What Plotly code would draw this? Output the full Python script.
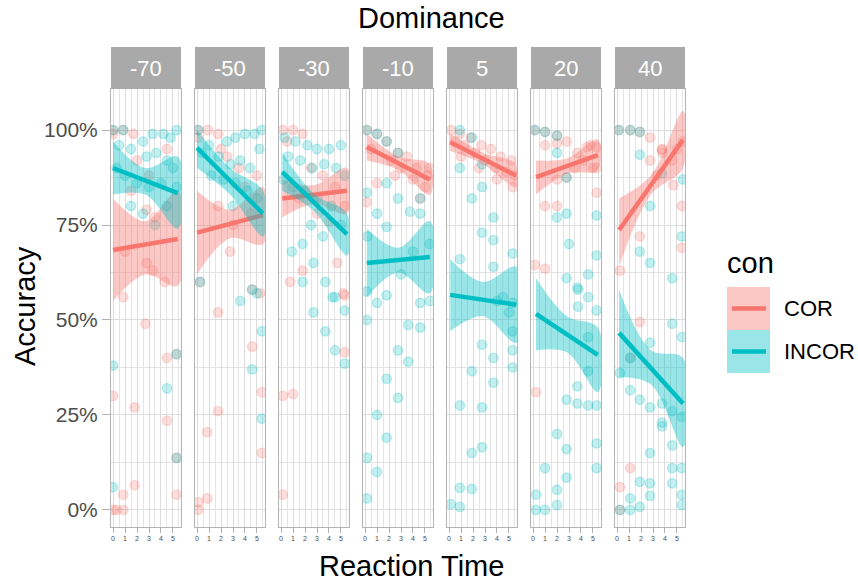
import plotly.graph_objects as go

W, H = 858, 582
DOMINANCE = ["-70", "-50", "-30", "-10", "5", "20", "40"]
X_TICKS = [0, 1, 2, 3, 4, 5]
Y_TICKS = [0, 0.25, 0.5, 0.75, 1.0]
Y_TICK_TEXT = ["0%", "25%", "50%", "75%", "100%"]

# ---- scatter points (reaction time, accuracy) per dominance panel ----
COR_X = [
    [0, 0.85, 1.7, 0, 2.8, 3.5, 1.0, 2.8, 3.3, 4.3, 0.85, 2.7, 5.3, 4.5, 0, 1.8, 4.5, 5.3, 1.8, 0.85, 5.3, 0, 0.85, 0.3, 2.0, 3.0, 4.5, 1.5],
    [0.1, 0.9, 1.75, 0.1, 2.5, 3.5, 1.75, 0.25, 2.75, 4.6, 5.25, 1.75, 4.6, 5.4, 1.75, 0.85, 5.4, 0.85, 0.1, 0.1, 4.0, 5.0, 3.0, 4.5, 2.0],
    [0.15, 1.0, 1.8, 0.5, 2.5, 3.5, 4.5, 5.3, 1.5, 3.0, 4.0, 0.75, 1.8, 4.7, 5.2, 5.3, 5.3, 0.15, 1.0, 0.15],
    [0.15, 1.0, 1.8, 2.75, 3.5, 4.3, 5.2, 0.5, 2.2, 3.0, 4.0, 5.0, 4.6, 0.15, 1.0, 2.5, 5.4],
    [0.2, 0.9, 1.8, 2.7, 3.5, 4.3, 5.2, 0.5, 1.3, 2.2, 3.0, 3.9, 4.8, 5.5, 1.0, 2.5, 4.0, 5.3],
    [0.15, 1.0, 2.0, 1.0, 2.0, 2.8, 3.7, 4.5, 5.3, 2.8, 2.0, 1.0, 2.0, 5.3, 0.15, 1.0, 0.25, 3.5, 4.2, 5.0, 4.8, 5.3],
    [0.15, 1.1, 1.9, 2.75, 3.75, 3.75, 3.8, 2.75, 4.6, 4.7, 5.4, 1.9, 5.4, 0.25, 1.9, 1.1, 1.1, 0.25, 0.25, 3.3, 5.0, 5.5],
]
COR_Y = [
    [1.0, 1.0, 0.99, 0.99, 0.79, 0.77, 0.68, 0.65, 0.63, 0.6, 0.56, 0.49, 0.41, 0.40, 0.30, 0.27, 0.235, 0.137, 0.065, 0.04, 0.04, 0.0, 0.0, 0.0, 0.92, 0.88, 0.95, 0.84],
    [1.0, 1.0, 0.99, 0.98, 0.93, 0.9, 0.80, 0.6, 0.68, 0.58, 0.57, 0.52, 0.43, 0.31, 0.26, 0.205, 0.15, 0.03, 0.02, 0.0, 0.85, 0.88, 0.75, 0.78, 0.95],
    [1.0, 1.0, 0.99, 0.97, 0.9, 0.88, 0.85, 0.8, 0.82, 0.78, 0.76, 0.6, 0.63, 0.65, 0.57, 0.565, 0.415, 0.30, 0.305, 0.04],
    [1.0, 0.99, 0.97, 0.94, 0.93, 0.9, 0.88, 0.95, 0.92, 0.9, 0.87, 0.85, 0.82, 0.81, 0.86, 0.88, 0.9],
    [1.0, 0.99, 0.98, 0.96, 0.95, 0.93, 0.92, 0.97, 0.96, 0.94, 0.92, 0.9, 0.89, 0.88, 0.93, 0.9, 0.87, 0.85],
    [1.0, 0.995, 0.985, 0.96, 0.965, 0.97, 0.94, 0.955, 0.955, 0.875, 0.87, 0.80, 0.80, 0.835, 0.645, 0.635, 0.31, 0.9, 0.92, 0.9, 0.96, 0.9],
    [1.0, 1.0, 0.995, 0.98, 0.947, 0.95, 0.94, 0.92, 0.92, 0.855, 0.80, 0.72, 0.69, 0.63, 0.495, 0.4, 0.11, 0.06, 0.0, 0.88, 0.95, 0.97],
]
INC_X = [
    [0, 0.85, 3.3, 4.2, 5.3, 4.8, 2.5, 0.5, 1.5, 2.8, 3.6, 4.5, 5.0, 0.3, 1.0, 2.0, 3.0, 4.0, 5.3, 1.5, 2.5, 3.5, 4.5, 5.3, 0, 4.5, 5.3, 0],
    [0.1, 4.0, 4.8, 5.4, 3.2, 2.5, 1.0, 0.4, 1.8, 2.8, 3.6, 4.4, 5.2, 1.2, 2.2, 3.2, 4.2, 5.0, 0.25, 3.0, 5.0, 4.6, 3.6, 5.4, 4.6, 5.4],
    [0.3, 1.2, 2.2, 3.0, 4.0, 5.0, 0.6, 1.6, 2.6, 3.6, 4.6, 5.3, 0.2, 1.0, 2.0, 3.0, 4.2, 5.0, 0.9, 1.8, 2.7, 3.7, 1.8, 4.3, 4.5, 2.7, 5.3, 3.7, 4.5, 5.3, 2.5, 3.5],
    [0.15, 1.0, 1.8, 2.75, 4.6, 1.8, 2.75, 3.75, 4.6, 1.0, 1.8, 0.15, 0.2, 0.15, 1.0, 1.8, 4.6, 5.4, 0.15, 3.6, 4.6, 2.75, 3.6, 1.8, 2.75, 1.0, 1.8, 0.15, 1.0, 0.15, 5.4, 4.0, 3.0],
    [0.9, 1.9, 0.9, 2.75, 2.75, 1.9, 3.7, 2.75, 3.7, 0.9, 3.7, 5.3, 2.75, 3.7, 1.9, 3.7, 5.3, 5.3, 0.9, 2.75, 2.75, 1.9, 0.9, 1.9, 0.9, 5.3, 5.3, 0.15, 4.5, 4.0, 5.0],
    [0.15, 1.0, 2.0, 2.0, 2.8, 2.0, 2.8, 5.3, 5.3, 2.8, 3.7, 3.75, 4.6, 3.75, 5.3, 4.6, 4.6, 3.7, 2.8, 3.7, 4.6, 5.3, 2.0, 2.8, 5.3, 1.0, 5.3, 2.8, 2.0, 0.25, 0.25, 1.0, 2.0, 4.6, 3.0],
    [0.15, 1.1, 1.9, 1.9, 3.75, 5.5, 2.75, 5.4, 1.9, 2.75, 4.6, 4.6, 5.4, 2.75, 1.1, 0.25, 1.1, 1.9, 2.75, 3.75, 3.75, 3.75, 4.6, 5.4, 4.6, 2.75, 4.6, 5.4, 1.9, 2.75, 4.6, 2.75, 5.4, 5.4, 1.1, 0.25, 1.1, 1.9],
]
INC_Y = [
    [1.0, 1.0, 0.99, 0.99, 1.0, 0.98, 0.97, 0.96, 0.95, 0.93, 0.94, 0.92, 0.9, 0.9, 0.88, 0.86, 0.85, 0.86, 0.85, 0.8, 0.78, 0.75, 0.8, 0.41, 0.38, 0.32, 0.137, 0.06],
    [1.0, 0.99, 0.99, 1.0, 0.98, 0.97, 0.96, 0.94, 0.93, 0.91, 0.92, 0.9, 0.95, 0.88, 0.87, 0.86, 0.84, 0.82, 0.6, 0.8, 0.57, 0.58, 0.55, 0.47, 0.37, 0.24],
    [0.98, 0.97, 0.96, 0.95, 0.95, 0.96, 0.93, 0.92, 0.9, 0.91, 0.9, 0.88, 0.87, 0.85, 0.84, 0.82, 0.8, 0.75, 0.68, 0.70, 0.65, 0.6, 0.6, 0.56, 0.56, 0.52, 0.525, 0.47, 0.42, 0.385, 0.75, 0.72],
    [1.0, 0.99, 0.97, 0.94, 0.82, 0.86, 0.82, 0.785, 0.78, 0.78, 0.745, 0.835, 0.72, 0.575, 0.545, 0.565, 0.545, 0.55, 0.5, 0.487, 0.48, 0.42, 0.39, 0.345, 0.295, 0.25, 0.19, 0.137, 0.1, 0.03, 0.7, 0.68, 0.62],
    [1.0, 0.98, 0.9, 0.91, 0.85, 0.82, 0.77, 0.73, 0.71, 0.66, 0.64, 0.675, 0.435, 0.40, 0.365, 0.335, 0.42, 0.375, 0.275, 0.27, 0.165, 0.15, 0.058, 0.055, 0.008, 0.47, 0.545, 0.015, 0.56, 0.55, 0.52],
    [1.0, 0.995, 0.985, 0.94, 0.875, 0.77, 0.78, 0.775, 0.67, 0.61, 0.585, 0.58, 0.56, 0.535, 0.525, 0.455, 0.365, 0.325, 0.29, 0.28, 0.275, 0.275, 0.2, 0.16, 0.175, 0.11, 0.11, 0.085, 0.053, 0.04, 0.0, 0.0, 0.013, 0.62, 0.7],
    [1.0, 1.0, 0.995, 0.935, 0.886, 0.87, 0.8, 0.72, 0.68, 0.65, 0.61, 0.49, 0.455, 0.44, 0.4, 0.36, 0.315, 0.29, 0.27, 0.28, 0.23, 0.22, 0.26, 0.245, 0.17, 0.15, 0.11, 0.11, 0.074, 0.07, 0.07, 0.037, 0.04, 0.013, 0.03, 0.0, 0.0, 0.008],
]

# ---- fitted lines (start/end) per panel ----
LINE_X0 = [0.0, 0.0, 0.1, 0.15, 0.1, 0.25, 0.17]
LINE_X1 = [5.4, 5.5, 5.5, 5.4, 5.6, 5.4, 5.5]
COR_FIT_Y0 = [0.684, 0.73, 0.82, 0.955, 0.968, 0.876, 0.737]
COR_FIT_Y1 = [0.713, 0.776, 0.84, 0.87, 0.88, 0.934, 0.974]
INC_FIT_Y0 = [0.90, 0.953, 0.89, 0.65, 0.566, 0.516, 0.466]
INC_FIT_Y1 = [0.834, 0.78, 0.726, 0.666, 0.54, 0.408, 0.28]

# ---- confidence band (start, middle, end) per panel ----
COR_UP = [[0.82, 0.76, 0.84], [0.84, 0.79, 0.85], [0.87, 0.855, 0.9], [0.99, 0.93, 0.91],
          [0.99, 0.94, 0.91], [0.92, 0.925, 0.975], [0.82, 0.88, 1.05]]
COR_LO = [[0.55, 0.62, 0.59], [0.62, 0.715, 0.70], [0.77, 0.805, 0.78], [0.92, 0.895, 0.83],
          [0.945, 0.91, 0.85], [0.83, 0.885, 0.895], [0.64, 0.83, 0.9]]
INC_UP = [[0.97, 0.9, 0.93], [1.0, 0.9, 0.84], [0.94, 0.83, 0.78], [0.74, 0.69, 0.76],
          [0.66, 0.6, 0.64], [0.61, 0.51, 0.48], [0.58, 0.42, 0.40]]
INC_LO = [[0.83, 0.83, 0.74], [0.9, 0.83, 0.72], [0.84, 0.785, 0.67], [0.56, 0.625, 0.57],
          [0.47, 0.51, 0.44], [0.42, 0.415, 0.31], [0.35, 0.33, 0.165]]

RED = "#F8766D"
TEAL = "#00BFC4"
RED_PT = "rgba(248,118,109,0.24)"
TEAL_PT = "rgba(0,191,196,0.24)"
RED_BAND = "rgba(248,118,109,0.4)"
TEAL_BAND = "rgba(0,191,196,0.4)"
FONT = "Liberation Sans, Arial, sans-serif"

fig = go.Figure()

PANEL_L0, PANEL_STEP, PANEL_W = 111, 84, 70
PANEL_TOP, PANEL_BOT = 89, 527
STRIP_TOP = 47


def px_x(p):
    return p / W


def px_y(p):
    return 1 - p / H


shapes = []
annotations = []

for i, dom in enumerate(DOMINANCE):
    n = "" if i == 0 else str(i + 1)
    xa, ya = "x" + n, "y" + n
    xs = [LINE_X0[i], (LINE_X0[i] + LINE_X1[i]) / 2, LINE_X1[i]]

    for px_, py_, col in ((COR_X[i], COR_Y[i], RED_PT), (INC_X[i], INC_Y[i], TEAL_PT)):
        fig.add_trace(go.Scatter(x=px_, y=py_, mode="markers", xaxis=xa, yaxis=ya,
                                 marker=dict(size=9.5, color=col, line=dict(color=col, width=1.3)),
                                 showlegend=False, hoverinfo="skip"))

    for up, lo, band, col, y0, y1 in ((COR_UP[i], COR_LO[i], RED_BAND, RED, COR_FIT_Y0[i], COR_FIT_Y1[i]),
                                      (INC_UP[i], INC_LO[i], TEAL_BAND, TEAL, INC_FIT_Y0[i], INC_FIT_Y1[i])):
        fig.add_trace(go.Scatter(x=xs + xs[::-1], y=up + lo[::-1], mode="lines", fill="toself",
                                 fillcolor=band, line=dict(width=0, shape="spline", smoothing=1.0),
                                 xaxis=xa, yaxis=ya, showlegend=False, hoverinfo="skip"))
        fig.add_trace(go.Scatter(x=[LINE_X0[i], LINE_X1[i]], y=[y0, y1], mode="lines",
                                 line=dict(color=col, width=4.5), xaxis=xa, yaxis=ya,
                                 showlegend=False, hoverinfo="skip"))

    left = PANEL_L0 + PANEL_STEP * i
    right = left + PANEL_W
    dom_x = [px_x(left), px_x(right)]
    dom_y = [px_y(PANEL_BOT), px_y(PANEL_TOP)]
    fig.layout["xaxis" + n] = dict(
        domain=dom_x, anchor=ya, range=[-0.17, 5.67], tickvals=X_TICKS,
        ticks="outside", ticklen=5, tickcolor="#B3B3B3", tickwidth=1,
        tickfont=dict(size=7, color="#4D4D4D", family=FONT),
        showgrid=True, gridcolor="#DCDCDC", gridwidth=1,
        minor=dict(dtick=0.5, tick0=0, showgrid=True, gridcolor="#E4E4E4", gridwidth=1),
        showline=True, linecolor="#B3B3B3", linewidth=1, mirror=True, zeroline=False,
        fixedrange=True,
    )
    fig.layout["yaxis" + n] = dict(
        domain=dom_y, anchor=xa, range=[-0.045, 1.108], tickvals=Y_TICKS,
        ticktext=Y_TICK_TEXT, showticklabels=(i == 0),
        ticks="outside" if i == 0 else "", ticklen=8, tickcolor="#B3B3B3",
        tickfont=dict(size=21, color="#4D4D4D", family=FONT),
        showgrid=True, gridcolor="#DCDCDC", gridwidth=1,
        minor=dict(dtick=0.125, tick0=0, showgrid=True, gridcolor="#E4E4E4", gridwidth=1),
        showline=True, linecolor="#B3B3B3", linewidth=1, mirror=True, zeroline=False,
        fixedrange=True,
    )
    shapes.append(dict(type="rect", xref="paper", yref="paper",
                       x0=px_x(left), x1=px_x(right), y0=px_y(PANEL_TOP), y1=px_y(STRIP_TOP),
                       fillcolor="#A9A9A9", line=dict(width=0), layer="above"))
    annotations.append(dict(text=dom, xref="paper", yref="paper", x=px_x(left + PANEL_W / 2),
                            y=px_y((STRIP_TOP + PANEL_TOP) / 2), showarrow=False,
                            font=dict(size=22, color="white", family=FONT),
                            xanchor="center", yanchor="middle"))

# titles
TITLE_SIZE = 29
annotations.append(dict(text="Dominance", xref="paper", yref="paper", x=px_x(431), y=px_y(18),
                        showarrow=False, font=dict(size=TITLE_SIZE, color="black", family=FONT),
                        xanchor="center", yanchor="middle"))
annotations.append(dict(text="Reaction Time", xref="paper", yref="paper", x=px_x(411), y=px_y(566),
                        showarrow=False, font=dict(size=TITLE_SIZE, color="black", family=FONT),
                        xanchor="center", yanchor="middle"))
annotations.append(dict(text="Accuracy", xref="paper", yref="paper", x=px_x(25), y=px_y(306),
                        showarrow=False, textangle=-90, font=dict(size=TITLE_SIZE, color="black", family=FONT),
                        xanchor="center", yanchor="middle"))

# legend (drawn manually)
LEGEND_LABELS = ["COR", "INCOR"]
annotations.append(dict(text="con", xref="paper", yref="paper", x=px_x(725), y=px_y(263),
                        showarrow=False, font=dict(size=TITLE_SIZE, color="black", family=FONT),
                        xanchor="left", yanchor="middle"))
for k, (lab, band, col) in enumerate(zip(LEGEND_LABELS, (RED_BAND, TEAL_BAND), (RED, TEAL))):
    top = 287 + 43 * k
    shapes.append(dict(type="rect", xref="paper", yref="paper", x0=px_x(727), x1=px_x(770),
                       y0=px_y(top + 43), y1=px_y(top), fillcolor=band, line=dict(width=0)))
    shapes.append(dict(type="line", xref="paper", yref="paper", x0=px_x(732), x1=px_x(766),
                       y0=px_y(top + 21.5), y1=px_y(top + 21.5), line=dict(color=col, width=4.5)))
    annotations.append(dict(text=lab, xref="paper", yref="paper", x=px_x(782), y=px_y(top + 21.5),
                            showarrow=False, font=dict(size=22, color="black", family=FONT),
                            xanchor="left", yanchor="middle"))

fig.update_layout(width=W, height=H, margin=dict(l=0, r=0, t=0, b=0),
                  paper_bgcolor="white", plot_bgcolor="white",
                  shapes=shapes, annotations=annotations, showlegend=False)

# remove the default page margin so the 858x582 figure fills the window exactly
fig.write_html("out.html", config={"displayModeBar": False, "staticPlot": True},
               post_script="document.body.style.margin='0';document.body.style.overflow='hidden';")
